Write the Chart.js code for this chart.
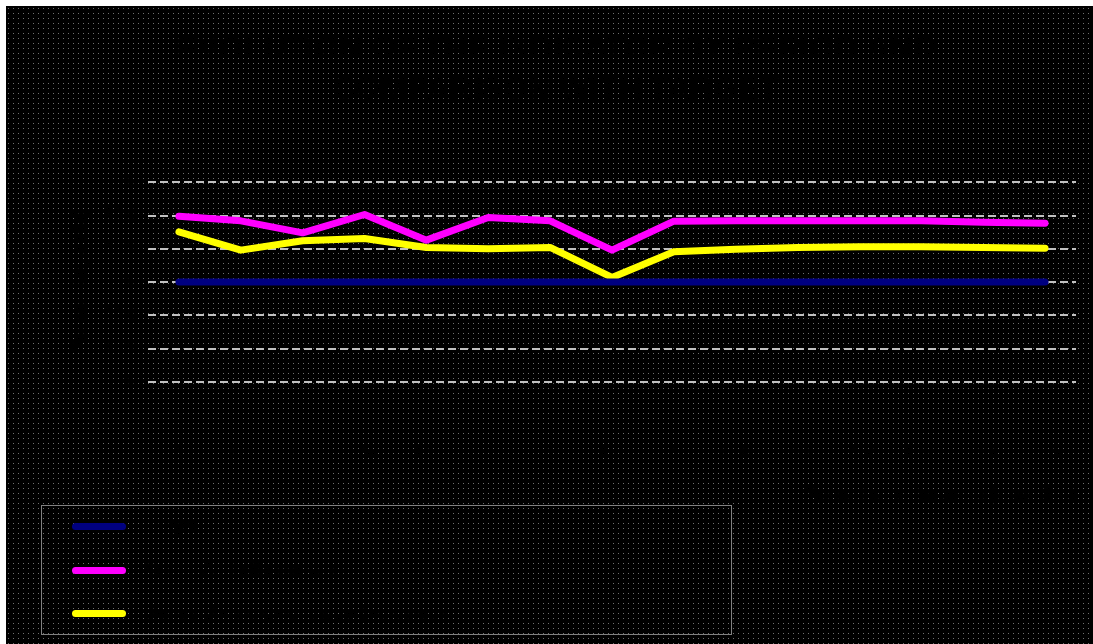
<!DOCTYPE html>
<html>
<head>
<meta charset="utf-8">
<script src="https://cdn.jsdelivr.net/npm/chart.js@4/dist/chart.umd.min.js"></script>
<style>
    body { margin: 0; background: #fff; font-family: 'Liberation Sans', Arial, sans-serif; }
    #wrap { position: absolute; left: 6px; top: 6px; width: 1087px; height: 638px; }
    #legend { position: absolute; left: 35px; top: 499px; width: 689px; height: 128px; border: 1px solid #808080; }
    .item { position: absolute; left: 30px; height: 20px; display: flex; align-items: center; color: #000; font-size: 19px; }
    .swatch { width: 54px; height: 7px; border-radius: 4px; margin-right: 18px; }
</style>
</head>
<body>
<div id="wrap">
    <canvas id="grafico" width="1087" height="638"></canvas>
    <div id="legend"></div>
</div>
<script>
// categorias do eixo x
const periods = ['P1', 'P2', 'P3', 'P4', 'P5', 'P6', 'P7', 'P8', 'P9', 'P10', 'P11', 'P12', 'P13', 'P14', 'P15'];

// series
const targetValues = [30, 30, 30, 30, 30, 30, 30, 30, 30, 30, 30, 30, 30, 30, 30];
const seriesA = [49.8, 48.4, 44.8, 50.3, 42.6, 49.4, 48.4, 39.6, 48.3, 48.4, 48.4, 48.4, 48.4, 48.0, 47.7];
const seriesB = [45.1, 39.6, 42.4, 43.1, 40.4, 40.0, 40.4, 31.4, 39.1, 39.9, 40.4, 40.6, 40.6, 40.4, 40.2];

const seriesNames = ['Target', 'Series A - indicator value', 'Series B - indicator value (adjusted)'];
const seriesColors = ['#000080', '#FF00FF', '#FFFF00'];

// ticks do eixo y
const yMin = 0;
const yMax = 60;
const yStep = 10;

const titleLines = ['EVOLUTION OF THE INDICATOR BY PERIOD AND', 'COMPARISON WITH TARGET'];

// fundo preto com pontinhos cinza
const dotBackground = {
    id: 'dotBackground',
    beforeDraw(chart) {
        const ctx = chart.ctx;
        const tile = document.createElement('canvas');
        tile.width = 5;
        tile.height = 5;
        const t = tile.getContext('2d');
        t.fillStyle = '#000';
        t.fillRect(0, 0, 5, 5);
        t.fillStyle = '#707070';
        t.fillRect(2, 2, 1, 1);
        ctx.save();
        ctx.fillStyle = ctx.createPattern(tile, 'repeat');
        ctx.fillRect(0, 0, chart.width, chart.height);
        ctx.restore();
    }
};

const datasets = [targetValues, seriesA, seriesB].map((values, i) => ({
    label: seriesNames[i],
    data: values,
    borderColor: seriesColors[i],
    backgroundColor: seriesColors[i],
    borderWidth: 7,
    borderCapStyle: 'round',
    borderJoinStyle: 'round',
    pointRadius: 0,
    tension: 0,
    fill: false
}));

const ctx = document.getElementById('grafico').getContext('2d');
const grafico = new Chart(ctx, {
    type: 'line',
    data: { labels: periods, datasets: datasets },
    options: {
        responsive: false,
        animation: false,
        layout: { padding: { left: 30, right: 17, top: 0, bottom: 0 } },
        plugins: {
            legend: { display: false },
            tooltip: { enabled: false },
            title: {
                display: true,
                text: titleLines,
                color: '#000',
                font: { family: 'Liberation Sans', size: 32, weight: 'bold', lineHeight: 1.3 },
                padding: { top: 22, bottom: 71 }
            }
        },
        scales: {
            x: {
                offset: true,
                grid: { display: false, drawTicks: false },
                border: { display: false },
                ticks: {
                    color: '#000',
                    font: { family: 'Liberation Sans', size: 17 },
                    padding: 60,
                    maxRotation: 0,
                    autoSkip: false
                },
                title: {
                    display: true,
                    text: 'Period of reference (months)',
                    align: 'end',
                    color: '#000',
                    font: { family: 'Liberation Sans', size: 20, weight: 'bold' },
                    padding: { top: 0, bottom: 137 }
                },
                afterFit: scale => {
                    scale.height = 262;
                    scale.paddingLeft = 0;
                    scale.paddingRight = 0;
                }
            },
            y: {
                min: yMin,
                max: yMax,
                grid: { color: '#c0c0c0', lineWidth: 2, drawTicks: false },
                border: { display: false, dash: [8, 4] },
                ticks: {
                    stepSize: yStep,
                    color: '#000',
                    font: { family: 'Liberation Sans', size: 17 },
                    padding: 10,
                    callback: v => v + '%'
                },
                title: {
                    display: true,
                    text: 'Percentage (%)',
                    color: '#000',
                    font: { family: 'Liberation Sans', size: 20, weight: 'bold' },
                    padding: { top: 32, bottom: 0 }
                },
                afterFit: scale => {
                    scale.width = 112;
                    scale.paddingTop = 0;
                    scale.paddingBottom = 0;
                }
            }
        }
    },
    plugins: [dotBackground]
});

// legenda em HTML dentro da caixa
const legendBox = document.getElementById('legend');
const rowTops = [10, 54, 97];
grafico.data.datasets.forEach((ds, i) => {
    const item = document.createElement('div');
    item.className = 'item';
    item.style.top = rowTops[i] + 'px';
    const sw = document.createElement('div');
    sw.className = 'swatch';
    sw.style.background = ds.borderColor;
    const txt = document.createElement('span');
    txt.textContent = ds.label;
    item.appendChild(sw);
    item.appendChild(txt);
    legendBox.appendChild(item);
});
</script>
</body>
</html>
